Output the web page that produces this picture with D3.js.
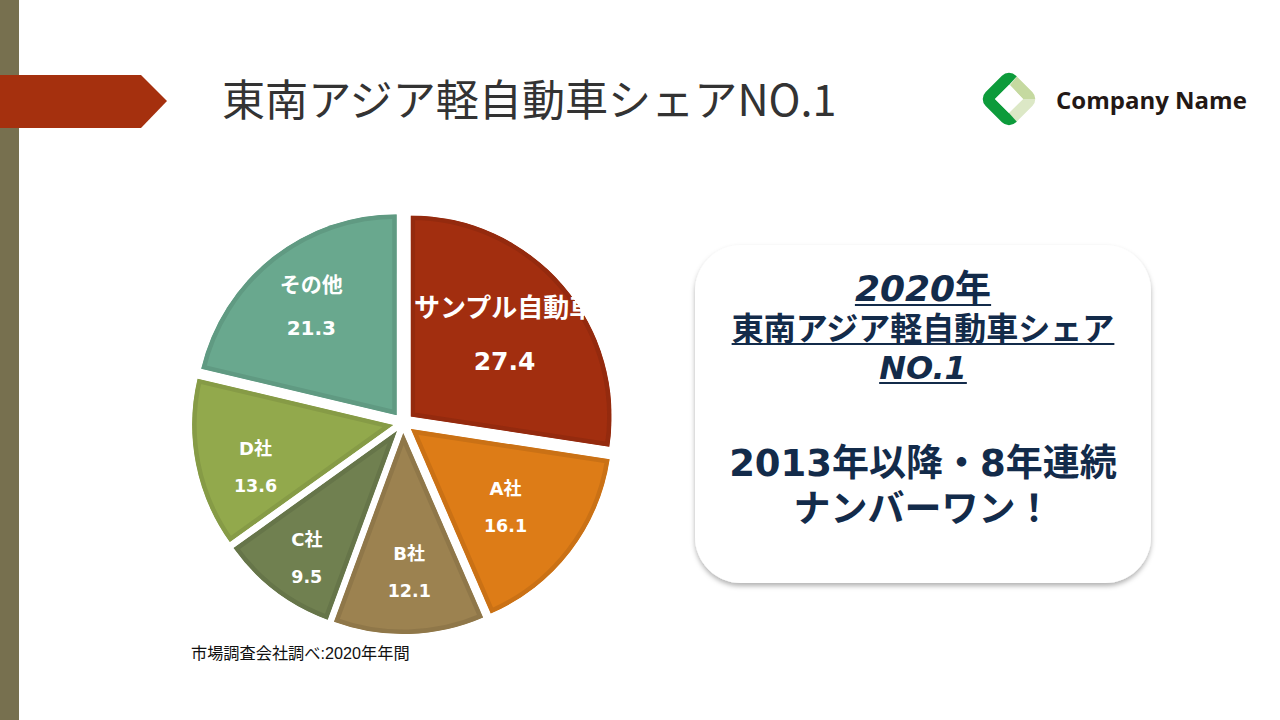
<!DOCTYPE html>
<html>
<head>
<meta charset="utf-8">
<script src="https://cdn.jsdelivr.net/npm/d3@7"></script>
<style>
  html, body { margin: 0; padding: 0; background: #fff; overflow: hidden; }
  svg { display: block; }
  .label { fill: #fff; font-family: "DejaVu Sans", "Noto Sans CJK JP"; font-weight: 700; text-anchor: middle; }
  .card { fill: #132b4a; font-family: "DejaVu Sans", "Noto Sans CJK JP"; font-weight: 700; text-anchor: middle; }
</style>
</head>
<body>
<script>
// chart data
var categories = ['サンプル自動車', 'A社', 'B社', 'C社', 'D社', 'その他'];
var shares = [27.4, 16.1, 12.1, 9.5, 13.6, 21.3];
var colors = ['#a22e0f', '#dd7c17', '#9c8250', '#708050', '#92a94c', '#69a88e'];

var width = 1280;
var height = 720;

// label layout: distance from slice tip as a share of the radius, nudges and font sizes
var labelDist = [0.62, 0.61, 0.69, 0.77, 0.715, 0.69];
var labelDx = [-1, -3, 2, 4, 4, 1];
var labelDy = [-1, 4, 1, 4, 15, 0];
var nameSize = [26, 18, 18, 18, 18, 21];
var valueSize = [25, 17.5, 17.5, 17.5, 17.5, 20];

var svg = d3.select('body').append('svg')
  .attr('width', width)
  .attr('height', height);

var defs = svg.append('defs');

var shadow = defs.append('filter').attr('id', 'shadow')
  .attr('x', '-10%').attr('y', '-10%').attr('width', '120%').attr('height', '120%');
shadow.append('feDropShadow')
  .attr('dx', 0).attr('dy', 3).attr('stdDeviation', 2.5)
  .attr('flood-color', '#000').attr('flood-opacity', 0.3);

// side bar and title arrow
svg.append('rect').attr('width', 19).attr('height', height).attr('fill', '#77704f');
svg.append('path').attr('d', 'M0,75H141L167,101L141,128H0Z').attr('fill', '#a5300e');

svg.append('text')
  .attr('x', 222).attr('y', 116)
  .style('font-family', '"Noto Sans CJK JP"')
  .style('font-weight', 400)
  .style('font-size', '43.1px')
  .attr('fill', '#333')
  .text('東南アジア軽自動車シェアNO.1');

// logo
var logo = svg.append('g').attr('transform', 'translate(1009,99)');
defs.append('clipPath').attr('id', 'logoClip').append('rect')
  .attr('x', -21.5).attr('y', -21.5).attr('width', 43).attr('height', 43).attr('rx', 10)
  .attr('transform', 'rotate(45)');
var logoParts = logo.append('g').attr('clip-path', 'url(#logoClip)');
logoParts.append('path').attr('d', 'M9,-24L40,-24L40,0L14,0L1,-14Z').attr('fill', '#c5d9a0');
logoParts.append('path').attr('d', 'M14,0L40,0L40,24L9,24L-1,14Z').attr('fill', '#dce8c6');
logoParts.append('path').attr('d', 'M-40,-40L9,-40L9,-24L0,-14L-14,0L0,14L9,24L9,40L-40,40Z').attr('fill', '#0d9b3b');
logo.append('path').attr('d', 'M0,-14L14,0L0,14L-14,0Z').attr('fill', '#fff');

svg.append('text')
  .attr('x', 1056).attr('y', 109)
  .style('font-family', '"Open Sans"')
  .style('font-weight', 700)
  .style('font-size', '24px')
  .attr('fill', '#231815')
  .text('Company Name');

// pie
var cx = 403;
var cy = 423;
var radius = 201;
var explode = 10;

var pie = d3.pie().sort(null).value(function(d) { return d; });
var arc = d3.arc().innerRadius(0).outerRadius(radius);
var arcs = pie(shares);

function midAngle(d) { return (d.startAngle + d.endAngle) / 2; }

var slices = svg.append('g').attr('transform', 'translate(' + cx + ',' + cy + ')')
  .selectAll('g')
  .data(arcs)
  .enter().append('g')
  .attr('transform', function(d) {
    var a = midAngle(d);
    return 'translate(' + explode * Math.sin(a) + ',' + -explode * Math.cos(a) + ')';
  });

slices.each(function(d, i) {
  defs.append('clipPath').attr('id', 'slice' + i).append('path').attr('d', arc(d));
});

// stroke is clipped to the slice so the darker rim stays inside it
slices.append('path')
  .attr('d', arc)
  .attr('clip-path', function(d, i) { return 'url(#slice' + i + ')'; })
  .attr('fill', function(d, i) { return colors[i]; })
  .attr('stroke', function(d, i) { return d3.color(colors[i]).darker(0.25); })
  .attr('stroke-width', 9);

// the long name is cut off by its label box in the original
defs.append('clipPath').attr('id', 'nameClip').append('rect')
  .attr('x', -93).attr('y', -40).attr('width', 173).attr('height', 60);

var labels = slices.append('g')
  .attr('transform', function(d, i) {
    var a = midAngle(d);
    var r = 202 * labelDist[i];
    return 'translate(' + (r * Math.sin(a) + labelDx[i]) + ',' + (-r * Math.cos(a) + labelDy[i]) + ')';
  });

labels.append('text')
  .attr('class', 'label')
  .attr('y', function(d, i) { return i === 0 ? -17 : i === 5 ? -14 : -13; })
  .attr('clip-path', function(d, i) { return i === 0 ? 'url(#nameClip)' : null; })
  .style('font-size', function(d, i) { return nameSize[i] + 'px'; })
  .text(function(d, i) { return categories[i]; });

labels.append('text')
  .attr('class', 'label')
  .attr('y', function(d, i) { return i === 0 ? 36 : i === 5 ? 29 : 24; })
  .style('font-size', function(d, i) { return valueSize[i] + 'px'; })
  .text(function(d) { return d3.format('.1f')(d.value); });

svg.append('text')
  .attr('x', 191).attr('y', 659)
  .style('font-family', '"Liberation Sans", "Noto Sans CJK JP"')
  .style('font-size', '16.2px')
  .attr('fill', '#111')
  .text('市場調査会社調べ:2020年年間');

// message card
svg.append('rect')
  .attr('x', 695).attr('y', 245)
  .attr('width', 456).attr('height', 338)
  .attr('rx', 46)
  .attr('fill', '#fff')
  .attr('filter', 'url(#shadow)');

var cardX = 923;
var cardLines = [
  { text: '2020', tail: '年', y: 301, size: 36, italic: true, rule: 305 },
  { text: '東南アジア軽自動車シェア', y: 340, size: 32, italic: false, rule: 344 },
  { text: 'NO.1', y: 379, size: 32, italic: true, rule: 383 },
  { text: '2013年以降・8年連続', y: 476, size: 37, italic: false },
  { text: 'ナンバーワン！', y: 522, size: 37, italic: false }
];

cardLines.forEach(function(line) {
  var t = svg.append('text')
    .attr('class', 'card')
    .attr('x', cardX).attr('y', line.y)
    .style('font-size', line.size + 'px');
  t.append('tspan')
    .style('font-style', line.italic ? 'italic' : 'normal')
    .text(line.text);
  if (line.tail) t.append('tspan').text(line.tail);
  if (line.rule) {
    var w = t.node().getComputedTextLength();
    svg.append('line')
      .attr('x1', cardX - w / 2).attr('x2', cardX + w / 2)
      .attr('y1', line.rule).attr('y2', line.rule)
      .attr('stroke', '#132b4a').attr('stroke-width', 2);
  }
});
</script>
</body>
</html>
